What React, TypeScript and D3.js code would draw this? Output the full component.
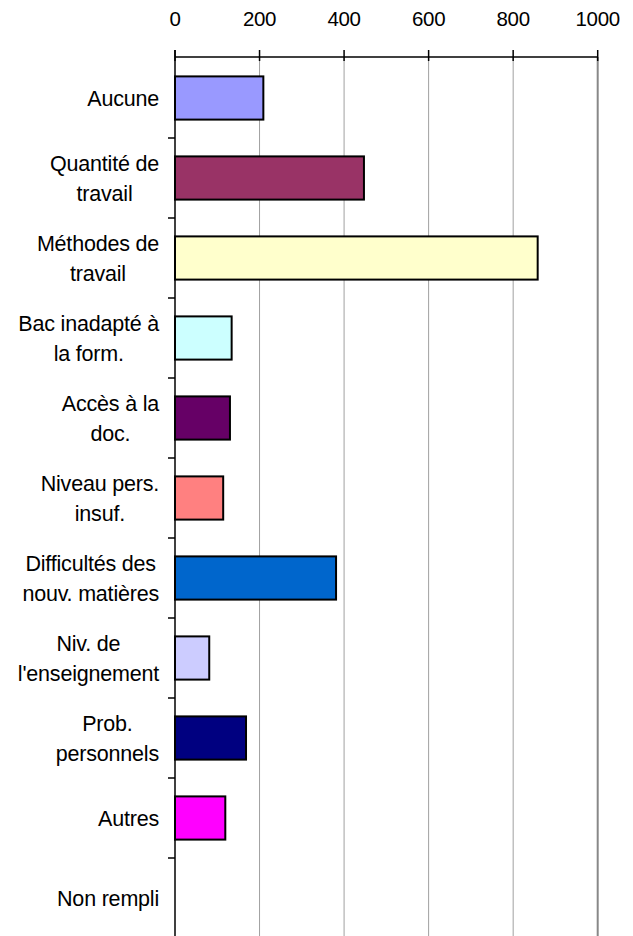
import React from "react";
import * as d3 from "d3";

const categories: string[][] = [
  ["Aucune"],
  ["Quantité de", "travail"],
  ["Méthodes de", "travail"],
  ["Bac inadapté à", "la form."],
  ["Accès à la", "doc."],
  ["Niveau pers.", "insuf."],
  ["Difficultés des", "nouv. matières"],
  ["Niv. de", "l'enseignement"],
  ["Prob.", "personnels"],
  ["Autres"],
  ["Non rempli"],
];
const values: number[] = [209, 447, 858, 134, 130, 114, 381, 81, 168, 119, 0];
const colors: string[] = [
  "#9999FF", "#993366", "#FFFFCC", "#CCFFFF", "#660066", "#FF8080",
  "#0066CC", "#CCCCFF", "#000080", "#FF00FF", "#FFFFFF",
];
const xTicks: number[] = [0, 200, 400, 600, 800, 1000];

const FONT = "'Liberation Sans', Arial, sans-serif";
const LABEL_SIZE = 21.5;
const LABEL_LS = -0.2;

let ctx: CanvasRenderingContext2D | null = null;
function measure(s: string): number {
  if (!ctx) {
    const c = document.createElement("canvas");
    ctx = c.getContext("2d");
  }
  if (!ctx) return s.length * LABEL_SIZE * 0.5;
  ctx.font = `${LABEL_SIZE}px 'Liberation Sans'`;
  return ctx.measureText(s).width + LABEL_LS * s.length;
}

export default function App() {
  const W = 633, H = 936;
  const x = d3.scaleLinear().domain([0, 1000]).range([175, 597.7]);
  const keys = categories.map((_, i) => String(i));
  const y = d3.scaleBand().domain(keys).range([58, 938]).paddingInner(0.46).paddingOuter(0.23);
  const step = y.step();
  return (
    <svg width={W} height={H} style={{ position: "absolute", left: 0, top: 0, background: "#fff" }}>
      {xTicks.slice(1).map((t) => (
        <line key={"g" + t} x1={x(t)} x2={x(t)} y1={57} y2={H}
          stroke={t === 1000 ? "#888" : "#a0a0a0"} strokeWidth={t === 1000 ? 2 : 1} />
      ))}
      {values.map((v, i) => (
        v > 0 ? (
          <rect key={"b" + i} x={x(0)} y={y(String(i))!} width={x(v) - x(0)} height={y.bandwidth()}
            fill={colors[i]} stroke="#000" strokeWidth={2} />
        ) : null
      ))}
      <line x1={x(0)} x2={x(1000)} y1={57} y2={57} stroke="#000" strokeWidth={1.5} />
      {xTicks.map((t) => (
        <g key={"t" + t}>
          <line x1={x(t)} x2={x(t)} y1={50} y2={61} stroke="#000" strokeWidth={1.5} />
          <text x={x(t)} y={25.5} textAnchor="middle" fontFamily={FONT} fontSize={20.5}
            letterSpacing={-0.3} fill="#000">{t}</text>
        </g>
      ))}
      <line x1={x(0)} x2={x(0)} y1={50} y2={H} stroke="#000" strokeWidth={1.5} />
      {keys.map((k, i) => {
        const yt = 58 + i * step;
        return i > 0 ? (
          <line key={"yt" + i} x1={168} x2={x(0)} y1={yt} y2={yt} stroke="#000" strokeWidth={1.5} />
        ) : null;
      })}
      {categories.map((lines, i) => {
        const cy = y(String(i))! + y.bandwidth() / 2;
        const lh = 30;
        const start = cy - ((lines.length - 1) * lh) / 2;
        const maxW = Math.max(...lines.map(measure));
        const cx = 159 - maxW / 2;
        return (
          <text key={"l" + i} textAnchor="middle" fontFamily={FONT} fontSize={LABEL_SIZE}
            letterSpacing={LABEL_LS} fill="#000">
            {lines.map((ln, j) => (
              <tspan key={j} x={cx} y={start + j * lh} dy="0.35em">{ln}</tspan>
            ))}
          </text>
        );
      })}
    </svg>
  );
}
